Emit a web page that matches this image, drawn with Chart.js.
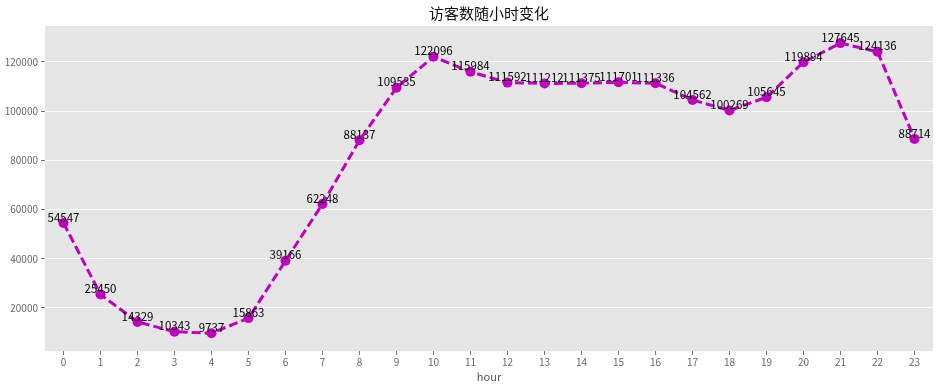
<!DOCTYPE html>
<html>
<head>
<meta charset="utf-8">
<script src="https://cdn.jsdelivr.net/npm/chart.js@4"></script>
<style>
  html, body { margin: 0; padding: 0; background: #fff; }
  #wrap { width: 944px; height: 388px; }
</style>
</head>
<body>
<div id="wrap"><canvas id="c" width="944" height="388"></canvas></div>
<script>
  "use strict";

  const hours = ["0","1","2","3","4","5","6","7","8","9","10","11","12","13","14","15","16","17","18","19","20","21","22","23"];
  const visitors = [54547, 25450, 14329, 10343, 9737, 15863, 39166, 62248, 88137, 109535, 122096, 115984,
    111592, 111212, 111375, 111701, 111336, 104562, 100269, 105645, 119894, 127645, 124136, 88714];
  const yTicks = [20000, 40000, 60000, 80000, 100000, 120000];

  const FONT = "'Noto Sans CJK SC', 'DejaVu Sans', sans-serif";

  // -- panel background -------------------------------------------------
  const panelBg = {
    id: "panelBg",
    beforeDraw(chart) {
      const { ctx, chartArea: a } = chart;
      ctx.save();
      ctx.fillStyle = "#e5e5e5";
      ctx.fillRect(a.left, a.top, a.right - a.left, a.bottom - a.top);
      ctx.restore();
    },
  };

  // -- value labels above points ----------------------------------------
  const valueLabels = {
    id: "valueLabels",
    afterDatasetsDraw(chart) {
      const { ctx } = chart;
      const meta = chart.getDatasetMeta(0);
      ctx.save();
      ctx.font = "11.5px " + FONT;
      if ("fontStretch" in ctx) ctx.fontStretch = "condensed";
      ctx.fillStyle = "#000";
      ctx.textAlign = "center";
      ctx.textBaseline = "bottom";
      meta.data.forEach((pt, i) => {
        ctx.fillText(String(visitors[i]), pt.x, pt.y);
      });
      ctx.restore();
    },
  };

  new Chart(document.getElementById("c").getContext("2d"), {
    type: "line",
    data: {
      labels: hours,
      datasets: [{
        data: visitors,
        borderColor: "#bf00bf",
        backgroundColor: "#bf00bf",
        borderWidth: 3,
        borderDash: [9, 4],
        pointRadius: 5,
        pointHoverRadius: 5,
        pointBorderWidth: 0,
        tension: 0,
        fill: false,
      }],
    },
    options: {
      responsive: false,
      animation: false,
      layout: { padding: { left: 0, right: 11, top: 0, bottom: 0 } },
      plugins: {
        legend: { display: false },
        tooltip: { enabled: false },
        title: {
          display: true,
          text: "访客数随小时变化",
          fullSize: false,
          color: "#111",
          font: { family: FONT, size: 15, weight: "normal" },
          padding: { top: 4, bottom: 4 },
        },
      },
      scales: {
        x: {
          offset: true,
          grid: { drawOnChartArea: false, drawTicks: true, tickLength: 4, tickColor: "#777", color: "transparent" },
          border: { display: false },
          ticks: { color: "#666", font: { family: FONT, size: 10 }, padding: 1, maxRotation: 0, autoSkip: false },
          title: { display: true, text: "hour", color: "#555", font: { family: FONT, size: 11 }, padding: { top: 0, bottom: 5 } },
          afterFit(scale) { scale.height = 37; },
        },
        y: {
          min: 2500,
          max: 134600,
          afterBuildTicks(scale) { scale.ticks = yTicks.map((v) => ({ value: v })); },
          grid: { color: "#ffffff", lineWidth: 1, tickLength: 4, tickColor: "#777" },
          border: { display: false },
          ticks: { color: "#666", font: { family: FONT, size: 10 }, padding: 3, callback: (v) => String(v) },
          afterFit(scale) { scale.width = 45; },
        },
      },
    },
    plugins: [panelBg, valueLabels],
  });
</script>
</body>
</html>
